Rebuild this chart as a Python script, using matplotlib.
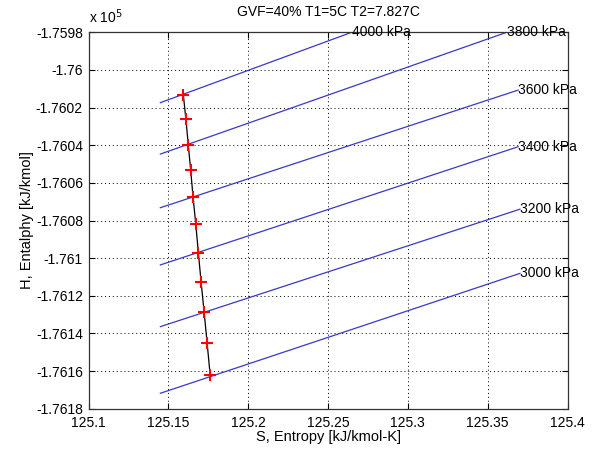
import matplotlib
matplotlib.use("Agg")
import matplotlib.pyplot as plt
from matplotlib.ticker import FixedLocator, FuncFormatter

# Isobars: pressure, start/end entropy [kJ/kmol-K] and enthalpy [kJ/kmol]
pressures = [4000, 3800, 3600, 3400, 3200, 3000]
iso_s_start = [125.1450, 125.1450, 125.1450, 125.1450, 125.1450, 125.1450]
iso_h_start = [-176017.4, -176044.7, -176073.2, -176103.6, -176136.4, -176171.8]
iso_s_end = [125.2648, 125.3619, 125.3691, 125.3691, 125.3702, 125.3702]
iso_h_end = [-175980.0, -175980.0, -176010.7, -176040.8, -176074.0, -176108.1]

# Compression path points
path_s = [125.1594, 125.1610, 125.1625, 125.1640, 125.1655, 125.1672,
          125.1688, 125.1705, 125.1724, 125.1743, 125.1762]
path_h = [-176013.3, -176026.2, -176039.9, -176053.2, -176067.7, -176082.0,
          -176097.1, -176112.5, -176128.5, -176145.2, -176162.1]

x_ticks = [125.1, 125.15, 125.2, 125.25, 125.3, 125.35, 125.4]
y_ticks = [-176180, -176160, -176140, -176120, -176100, -176080,
           -176060, -176040, -176020, -176000, -175980]

plt.rcParams['font.family'] = ['Liberation Sans', 'DejaVu Sans']
FS = 10

fig = plt.figure(figsize=(5.92, 4.54), dpi=100, facecolor='white')
ax = fig.add_axes([88.5 / 592, 1 - 408.7 / 454, (567.5 - 88.5) / 592, (408.7 - 32.3) / 454])

line_blue = (0.22, 0.22, 0.78)
for p, s0, h0, s1, h1 in zip(pressures, iso_s_start, iso_h_start, iso_s_end, iso_h_end):
    ax.plot([s0, s1], [h0, h1], color=line_blue, lw=0.9, zorder=2)
    ax.text(s1, h1, f"{p} kPa", ha='left', va='center', fontsize=FS,
            color='black', zorder=4, clip_on=False)

ax.plot(path_s, path_h, color='black', lw=0.9, zorder=3)
ax.plot(path_s, path_h, linestyle='none', marker='+', color='red',
        markersize=8, markeredgewidth=1.5, zorder=5)

ax.set_xlim(125.1, 125.4)
ax.set_ylim(-176180, -175980)
ax.xaxis.set_major_locator(FixedLocator(x_ticks))
ax.yaxis.set_major_locator(FixedLocator(y_ticks))
ax.xaxis.set_major_formatter(FuncFormatter(lambda v, pos: f"{v:g}"))
ax.yaxis.set_major_formatter(FuncFormatter(lambda v, pos: f"{v / 1e5:.5g}"))

ax.grid(True, color='black', linestyle=(0, (1, 3)), linewidth=0.7)
ax.tick_params(direction='in', top=True, right=True, length=4, width=0.8,
               labelsize=FS)
ax.tick_params(axis='x', pad=5)
ax.tick_params(axis='y', pad=4)
for sp in ax.spines.values():
    sp.set_linewidth(0.9)
    sp.set_color('#333333')

ax.text(0.0, 1.018, r"x 10$^{5}$", transform=ax.transAxes, ha='left', va='bottom',
        fontsize=FS)
ax.set_title("GVF=40% T1=5C T2=7.827C", fontsize=FS, pad=12)
ax.set_xlabel("S, Entropy [kJ/kmol-K]", fontsize=10.5, labelpad=0)
ax.set_ylabel("H, Entalphy [kJ/kmol]", fontsize=10.5, labelpad=1)

fig.savefig("out.png", dpi=100, facecolor='white')
